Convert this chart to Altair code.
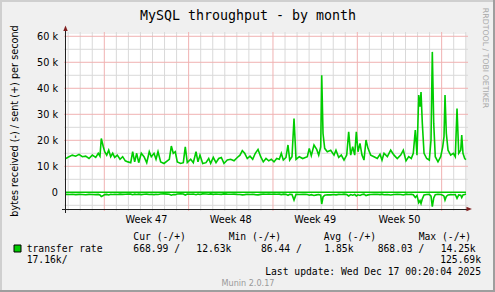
import altair as alt
import pandas as pd

# ---------------- text ----------------
TITLE = "MySQL throughput - by month"
Y_TITLE = "bytes received (-) / sent (+) per second"
WATERMARK = "RRDTOOL / TOBI OETIKER"
WEEKS = ["Week 47", "Week 48", "Week 49", "Week 50"]
LEGEND_NAME = "transfer rate"
HEADERS = ["Cur (-/+)", "Min (-/+)", "Avg (-/+)", "Max (-/+)"]
CUR = ["668.99", "12.63k"]
MIN = ["86.44", "1.85k"]
AVG = ["868.03", "14.25k"]
MAX = ["17.16k", "125.69k"]
LAST_UPDATE = "Last update: Wed Dec 17 00:20:04 2025"
FOOTER = "Munin 2.0.17"

# ---------------- axes (hours since graph start / k bytes per second) ----------------
X_END = 796.8
Y_MIN, Y_MAX = -6.42, 60.88
FIRST_MONDAY = 76.3
WEEK_LINES = [FIRST_MONDAY + 168 * i for i in range(5)]
WEEK_MID = [FIRST_MONDAY + 84 + 168 * i for i in range(4)]
DAY_LINES = [4.3 + 24 * i for i in range(34) if (i - 3) % 7 != 0]
Y_MAJOR = [0, 10, 20, 30, 40, 50, 60]
Y_MINOR = [-5, 5, 15, 25, 35, 45, 55]

# ---------------- series ----------------
HOURS = [0, 6.0, 12.5, 19.3, 25.9, 32.5, 39.2, 45.8, 52.4, 59.2,
         64.3, 67.7, 70.3, 74.3, 77.1, 81.1, 85.1, 89.0, 93.0, 97.0,
         102.2, 107.6, 112.9, 118.1, 123.5, 128.9, 132.8, 136.8, 140.8, 144.8,
         150.0, 155.4, 160.8, 165.9, 169.9, 175.3, 179.3, 183.3, 188.6, 195.2,
         201.8, 205.8, 209.8, 213.7, 217.7, 221.7, 228.5, 233.7, 237.6, 241.6,
         248.4, 253.6, 259.0, 262.9, 266.9, 272.3, 278.9, 284.3, 288.2, 293.4,
         298.8, 304.2, 309.4, 314.7, 321.3, 328.1, 334.7, 341.2, 346.6, 351.2,
         356.0, 361.1, 366.5, 371.9, 377.1, 382.5, 387.8, 393.0, 398.4, 403.8,
         408.9, 414.3, 419.7, 424.9, 428.9, 432.9, 438.2, 442.2, 445.6, 450.2,
         454.2, 458.2, 464.7, 471.5, 476.7, 480.7, 484.6, 488.6, 494.0, 499.4,
         503.4, 507.4, 509.4, 512.0, 515.3, 520.5, 527.3, 533.9, 537.8, 543.2,
         548.4, 553.8, 559.2, 563.1, 567.1, 571.1, 575.1, 578.3, 581.7, 585.6,
         589.6, 593.6, 597.6, 601.6, 607.0, 613.5, 620.1, 625.5, 629.5, 633.5,
         640.1, 646.8, 653.4, 659.9, 666.7, 671.9, 677.3, 682.7, 687.8, 691.8,
         695.8, 699.2, 702.6, 705.2, 707.2, 709.8, 713.2, 718.5, 723.7, 727.1,
         729.7, 732.5, 735.6, 741.0, 746.4, 750.4, 753.0, 755.0, 757.6, 761.0,
         766.3, 771.5, 775.5, 778.9, 782.3, 786.3, 788.3, 790.8, 794.2, 796.8]

SENT = [13.0, 13.7, 14.3, 13.9, 14.6, 13.7, 13.9, 13.0, 14.3, 13.4,
        15.0, 13.9, 20.7, 17.5, 15.6, 14.3, 16.2, 13.7, 15.0, 13.4,
        14.3, 12.7, 13.7, 12.1, 11.7, 11.4, 15.6, 11.7, 15.0, 11.4,
        15.0, 13.7, 11.4, 15.6, 13.7, 15.0, 12.7, 15.6, 11.7, 11.1,
        12.1, 12.7, 17.8, 15.0, 15.6, 11.7, 11.1, 11.4, 17.5, 11.4,
        12.7, 11.4, 15.6, 11.7, 14.3, 11.1, 11.4, 13.0, 11.1, 13.4,
        11.4, 13.0, 13.4, 11.1, 12.4, 12.7, 12.1, 13.4, 14.3, 16.0,
        15.0, 13.0, 13.9, 12.7, 15.0, 16.5, 13.7, 11.7, 13.0, 12.1,
        12.7, 11.7, 13.0, 12.7, 15.0, 12.4, 13.4, 18.2, 12.4, 13.7,
        28.4, 12.7, 13.7, 13.0, 13.4, 13.7, 16.9, 14.1, 18.2, 16.5,
        14.3, 17.5, 45.0, 22.6, 16.9, 15.6, 16.2, 14.3, 16.2, 13.4,
        14.3, 12.4, 14.3, 23.3, 14.3, 17.5, 14.3, 23.3, 15.6, 18.8,
        14.3, 12.4, 20.1, 16.9, 14.3, 13.7, 13.0, 14.6, 12.4, 15.0,
        13.7, 16.2, 14.3, 13.0, 14.3, 16.2, 12.1, 13.7, 13.0, 15.0,
        23.9, 14.3, 37.4, 32.9, 38.6, 26.5, 15.0, 13.0, 12.4, 20.1,
        54.0, 26.5, 13.7, 11.7, 13.7, 17.5, 21.4, 37.4, 22.7, 16.2,
        14.3, 15.0, 13.7, 32.2, 15.0, 16.2, 22.0, 15.0, 13.0, 12.6]

RECV = [0.80, 0.85, 0.75, 0.90, 0.80, 0.85, 0.95, 0.80, 0.85, 0.90,
        0.80, 1.00, 1.60, 1.20, 0.90, 0.80, 1.00, 0.75, 0.85, 0.80,
        0.85, 0.70, 0.80, 0.75, 0.65, 0.70, 0.95, 0.70, 0.85, 0.70,
        0.90, 0.75, 0.70, 0.85, 0.75, 0.90, 0.75, 0.85, 0.65, 0.60,
        0.70, 0.75, 1.10, 0.85, 0.90, 0.65, 0.60, 0.65, 1.05, 0.65,
        0.75, 0.65, 0.95, 0.65, 0.85, 0.60, 0.65, 0.75, 0.60, 0.80,
        0.65, 0.75, 0.80, 0.60, 0.70, 0.75, 0.70, 0.80, 0.85, 1.00,
        0.90, 0.75, 0.85, 0.75, 0.90, 1.00, 0.80, 0.65, 0.75, 0.70,
        0.75, 0.65, 0.75, 0.70, 0.90, 0.70, 0.80, 1.20, 0.75, 0.85,
        3.00, 0.80, 0.85, 0.75, 0.80, 0.85, 1.10, 0.90, 1.20, 1.00,
        0.85, 1.10, 4.50, 1.80, 1.10, 0.95, 1.00, 0.85, 1.00, 0.80,
        0.85, 0.70, 0.85, 1.40, 0.85, 1.10, 0.85, 1.40, 0.95, 1.20,
        0.85, 0.70, 1.25, 1.00, 0.85, 0.80, 0.75, 0.90, 0.70, 0.95,
        0.85, 1.05, 0.85, 0.75, 0.85, 1.05, 0.70, 0.85, 0.80, 0.95,
        2.00, 1.20, 4.00, 3.20, 4.30, 2.50, 1.00, 0.85, 0.80, 1.50,
        5.50, 2.20, 0.90, 0.75, 0.85, 1.10, 1.50, 3.00, 1.60, 1.00,
        0.90, 0.95, 0.85, 2.30, 1.00, 1.10, 2.00, 1.00, 0.85, 0.67]

assert len(HOURS) == len(SENT) == len(RECV)

# ---------------- styles ----------------
GREEN = "#00cc00"
GRID = "#d9d9d9"
MGRID = "#f0b2b2"
AXIS = "#202020"
ARROW = "#801f1f"
SANS = "DejaVu Sans"
MONO = "DejaVu Sans Mono"

df = pd.DataFrame({"h": HOURS, "sent": SENT, "recv": [-v for v in RECV]})
one = pd.DataFrame({"k": [0]})

xs = alt.Scale(domain=[0, X_END], nice=False, zero=False)
ys = alt.Scale(domain=[Y_MIN, Y_MAX], nice=False, zero=False)

W, H = 400, 175

yaxis = alt.Axis(values=Y_MAJOR, labelExpr="datum.value == 0 ? '0' : datum.value + ' k'",
                 title=None, domain=False, ticks=False, grid=False, labelFont=SANS,
                 labelFontSize=9.7, labelColor="black", labelPadding=8.5)


def vrules(values, color):
    return alt.Chart(pd.DataFrame({"v": values})).mark_rule(color=color, strokeWidth=1).encode(
        x=alt.X("v:Q", scale=xs, axis=None), y=alt.value(-2), y2=alt.value(H + 2))


def hrules(values, color):
    return alt.Chart(pd.DataFrame({"v": values})).mark_rule(color=color, strokeWidth=1).encode(
        y=alt.Y("v:Q", scale=ys, axis=yaxis), x=alt.value(-2), x2=alt.value(W + 2))


def fixed_rule(x, x2, y, y2, color, width=1):
    return alt.Chart(one).mark_rule(color=color, strokeWidth=width).encode(
        x=alt.value(x), x2=alt.value(x2), y=alt.value(y), y2=alt.value(y2))


def txt(s, x, y, size=9.7, font=MONO, align="left", color="black", angle=0, baseline="alphabetic"):
    kw = dict(align=align, baseline=baseline, font=font, fontSize=size, color=color)
    if angle:
        kw["angle"] = angle
    return alt.Chart(one).mark_text(**kw).encode(x=alt.value(x), y=alt.value(y), text=alt.value(s))


sent_line = alt.Chart(df).mark_line(color=GREEN, strokeWidth=1.6).encode(
    x=alt.X("h:Q", scale=xs, axis=None), y=alt.Y("sent:Q", scale=ys, axis=yaxis))
recv_line = alt.Chart(df).mark_line(color=GREEN, strokeWidth=1.6).encode(
    x=alt.X("h:Q", scale=xs, axis=None), y=alt.Y("recv:Q", scale=ys, axis=yaxis))
zero_line = alt.Chart(pd.DataFrame({"v": [0]})).mark_rule(color=GREEN, strokeWidth=1.5).encode(
    y=alt.Y("v:Q", scale=ys, axis=yaxis), x=alt.value(0), x2=alt.value(W))

week_labels = alt.Chart(pd.DataFrame({"w": WEEKS, "m": WEEK_MID})).mark_text(
    font=SANS, fontSize=9.7, color="black", baseline="alphabetic", align="center").encode(
    x=alt.X("m:Q", scale=xs, axis=None), y=alt.value(188.5), text="w:N")

up_arrow = alt.Chart(one).mark_point(shape="M-0.8,1L0,-1L0.8,1Z", filled=True, size=30,
                                     color=ARROW, opacity=1).encode(
    x=alt.value(-0.5), y=alt.value(-5.8))
right_arrow = alt.Chart(one).mark_point(shape="M-1,-0.8L1,0L-1,0.8Z", filled=True, size=30,
                                        color=ARROW, opacity=1).encode(
    x=alt.value(403.2), y=alt.value(175))

legend_box = alt.Chart(one).mark_rect(color=GREEN, stroke="black", strokeWidth=1).encode(
    x=alt.value(-52), x2=alt.value(-45), y=alt.value(211), y2=alt.value(218))

layers = [
    hrules(Y_MINOR, GRID), vrules(DAY_LINES, GRID),
    vrules(WEEK_LINES, MGRID), hrules(Y_MAJOR[1:], MGRID),
    fixed_rule(-0.5, -0.5, -4, 179, AXIS),
    fixed_rule(-4, 402, 175.5, 175.5, AXIS),
    recv_line, zero_line, sent_line,
    up_arrow, right_arrow,
    week_labels,
    # frame
    fixed_rule(-66, 429, -33, -33, "#cfcfcf", 2),
    fixed_rule(-65, -65, -34, 258, "#cfcfcf", 2),
    fixed_rule(-66, 429, 257, 257, "#9e9e9e", 2),
    fixed_rule(428, 428, -34, 258, "#9e9e9e", 2),
    # texts
    txt(TITLE, 182, -13.7, size=13.3, align="center"),
    txt(Y_TITLE, -51, 87, size=9.7, font=SANS, align="center", angle=270, baseline="middle"),
    txt(WATERMARK, 419, 24, size=7.8, font=SANS, align="center", angle=90, baseline="middle",
        color="#a8a8a8"),
    txt(HEADERS[0], 67.3, 206), txt(HEADERS[1], 162.7, 206),
    txt(HEADERS[2], 257.7, 206), txt(HEADERS[3], 352.7, 206),
    legend_box,
    txt(LEGEND_NAME, -39.3, 217.7),
    txt(CUR[0] + " /", 67.3, 217.7), txt(CUR[1], 130.3, 217.7),
    txt(MIN[0] + " /", 195, 217.7), txt(MIN[1], 258.3, 217.7),
    txt(AVG[0] + " /", 311.7, 217.7), txt(AVG[1], 374.7, 217.7),
    txt(MAX[0] + "/", -39.3, 229.4), txt(MAX[1], 415, 229.4, align="right"),
    txt(LAST_UPDATE, 415, 241.1, align="right"),
    txt(FOOTER, 182, 251.5, size=8.1, font=SANS, align="center", color="#999999"),
]

chart = alt.layer(*layers).properties(
    width=W, height=H,
    autosize=alt.AutoSizeParams(type="none"),
    padding={"left": 66, "top": 34, "right": 29, "bottom": 83},
    background="#f0f0f0",
).configure_view(fill="white", stroke=None)

chart.save("out.html", embed_options={"renderer": "svg", "actions": False})
